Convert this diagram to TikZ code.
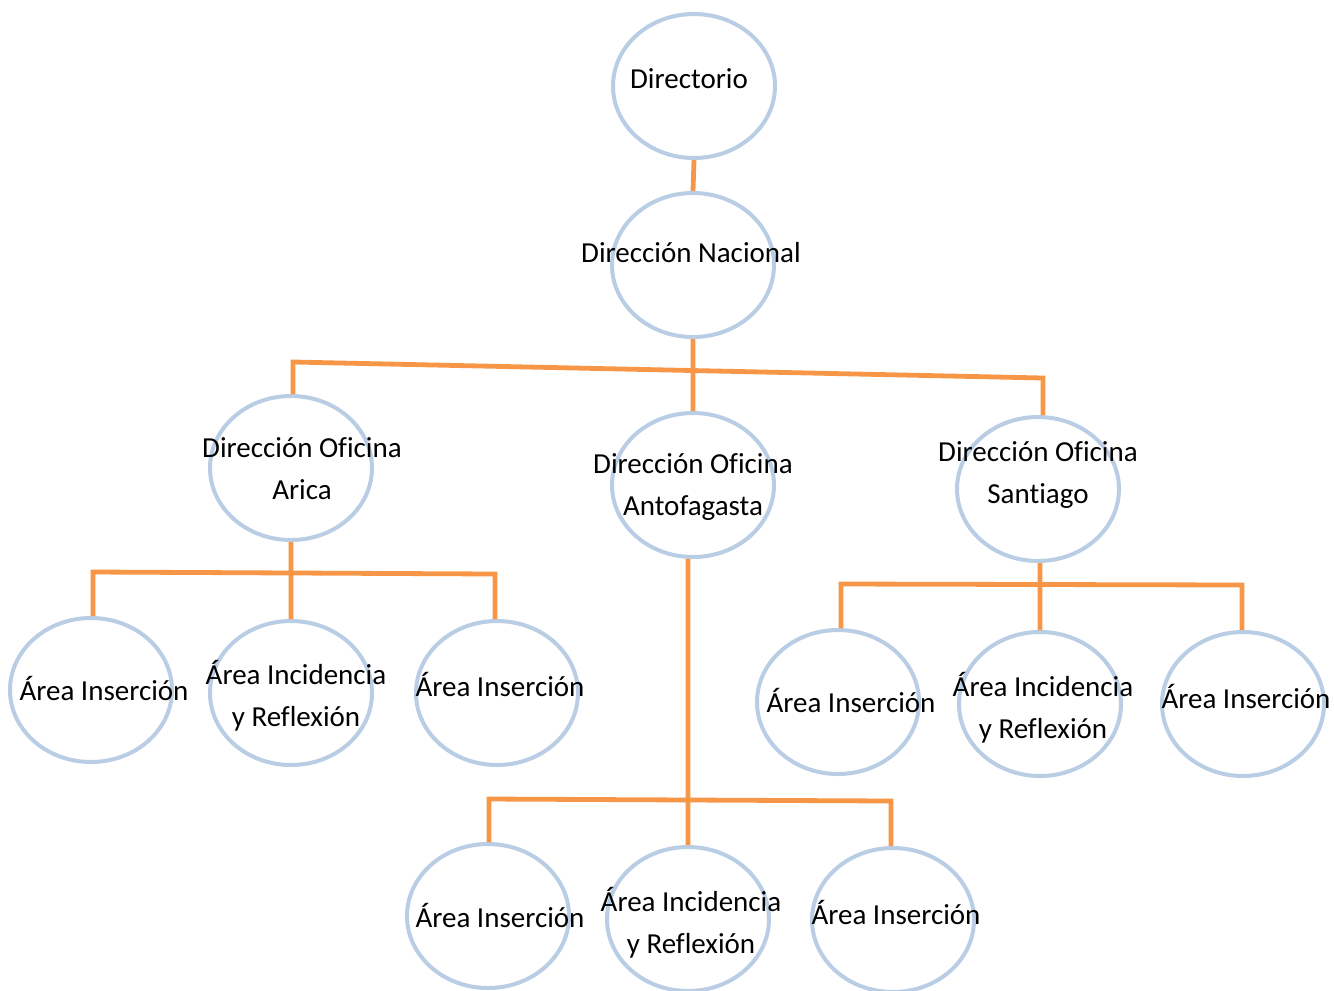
\documentclass[tikz,border=0pt]{standalone}
\usepackage{fontspec}
\setmainfont{Carlito}[Ligatures=NoCommon]
\usetikzlibrary{shapes.geometric}
\definecolor{bordeazul}{RGB}{185,205,229}
\definecolor{naranja}{RGB}{247,150,70}

\begin{document}
\begin{tikzpicture}[x=0.75pt,y=-0.75pt,line join=miter]
		\tikzstyle{globo}=[ellipse,draw=bordeazul,line width=3pt,minimum width=121.5pt,minimum height=108pt,inner sep=0pt]
		\tikzstyle{texto}=[font=\fontsize{21.75}{31}\selectfont,align=center,inner sep=0pt,anchor=base]
		\tikzstyle{rama}=[draw=naranja,line width=3.6pt]
		\useasboundingbox (0,0) rectangle (1334,990);
		
		\node[globo] (dir) at (694,86) {};
		\node[globo] (nac) at (693,265) {};
		\node[globo] (arica) at (291,468) {};
		\node[globo] (anto) at (693,485) {};
		\node[globo] (stgo) at (1038,489) {};
		\node[globo] (aricaA) at (91,690) {};
		\node[globo] (aricaB) at (291,693) {};
		\node[globo] (aricaC) at (497,693) {};
		\node[globo] (stgoA) at (838,702) {};
		\node[globo] (stgoB) at (1040,704) {};
		\node[globo] (stgoC) at (1243,704) {};
		\node[globo] (antoA) at (488,916) {};
		\node[globo] (antoB) at (688,919) {};
		\node[globo] (antoC) at (893,920) {};
		
		\coordinate (barL) at (293,362);
		\coordinate (barR) at (1043,378);
		\coordinate (aL) at (93,572);
		\coordinate (aR) at (495,574);
		\coordinate (bL) at (489,799);
		\coordinate (bR) at (891,801);
		\coordinate (sL) at (841,584);
		\coordinate (sR) at (1242,585);
		
		\path[rama]
		(dir.south) -- (nac.north)
		(nac.south) -- (anto.north)
		(barL |- arica.north) -- (barL) -- (barR) -- (barR |- stgo.north)
		(arica.south) -- (aricaB.north)
		(aL |- aricaA.north) -- (aL) -- (aR) -- (aR |- aricaC.north)
		(antoB |- anto.south) -- (antoB.north)
		(bL |- antoA.north) -- (bL) -- (bR) -- (bR |- antoC.north)
		(stgo.south -| stgoB) -- (stgoB.north)
		(sL |- stgoA.north) -- (sL) -- (sR) -- (sR |- stgoC.north);
		
		\node[texto] (tdir) at (689,88) {Directorio};
		\node[texto] (tnac) at (691,262) {Dirección Nacional};
		\node[texto] (tarica) at (302,499) {Dirección Oficina\\Arica};
		\node[texto] (tanto) at (693,515) {Dirección Oficina\\Antofagasta};
		\node[texto] (tstgo) at (1038,503) {Dirección Oficina\\Santiago};
		\node[texto] (taricaA) at (104,700) {Área Inserción};
		\node[texto] (taricaB) at (296,726) {Área Incidencia\\y Reflexión};
		\node[texto] (taricaC) at (500,696) {Área Inserción};
		\node[texto] (tstgoA) at (851,712) {Área Inserción};
		\node[texto] (tstgoB) at (1043,738) {Área Incidencia\\y Reflexión};
		\node[texto] (tstgoC) at (1246,708) {Área Inserción};
		\node[texto] (tantoA) at (500,927) {Área Inserción};
		\node[texto] (tantoB) at (691,953) {Área Incidencia\\y Reflexión};
		\node[texto] (tantoC) at (896,924) {Área Inserción};
	\end{tikzpicture}
\end{document}
